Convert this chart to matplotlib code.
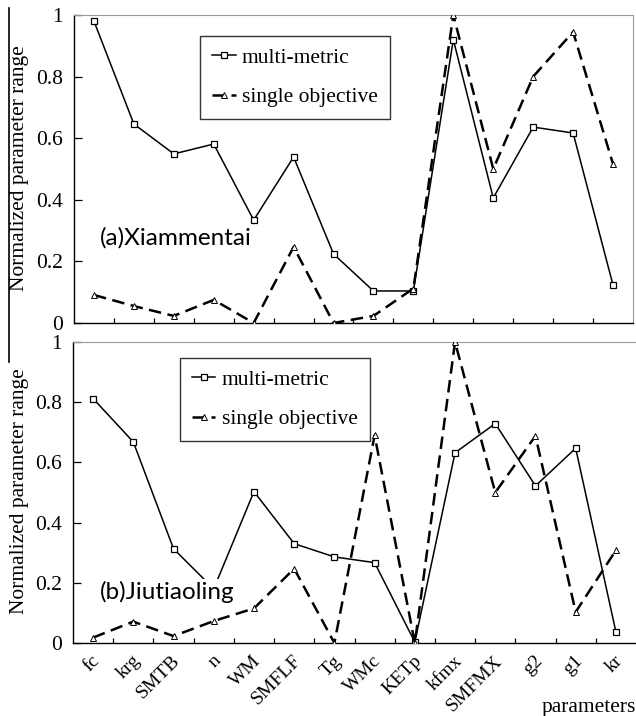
import matplotlib
matplotlib.use("Agg")
import matplotlib.pyplot as plt
from matplotlib.lines import Line2D

params = ['fc', 'krg', 'SMTB', 'n', 'WM', 'SMFLF', 'Tg', 'WMc', 'KETp',
          'kfmx', 'SMFMX', 'g2', 'g1', 'kr']

# (a) Xiammentai
multi_a = [0.98, 0.646, 0.549, 0.581, 0.334, 0.539, 0.224, 0.104, 0.104,
           0.92, 0.406, 0.636, 0.617, 0.123]
single_a = [0.091, 0.055, 0.023, 0.075, 0.0, 0.247, 0.0, 0.023, 0.112,
            1.0, 0.5, 0.80, 0.945, 0.516]

# (b) Jiutiaoling
multi_b = [0.812, 0.668, 0.313, 0.18, 0.503, 0.33, 0.286, 0.267, 0.003,
           0.632, 0.729, 0.522, 0.647, 0.037]
single_b = [0.018, 0.071, 0.023, 0.073, 0.115, 0.247, 0.0, 0.69, 0.0,
            1.0, 0.5, 0.688, 0.103, 0.308]

yticks = [0, 0.2, 0.4, 0.6, 0.8, 1.0]
yticklabels = ['0', '0.2', '0.4', '0.6', '0.8', '1']

serif = 'Liberation Serif'
W, H = 636, 716

fig = plt.figure(figsize=[W / 100, H / 100], dpi=100)
ax1 = fig.add_axes([74 / W, 1 - 323 / H, 559 / W, 308 / H])
ax2 = fig.add_axes([73 / W, 1 - 643 / H, 563 / W, 301 / H])

xs = [i + 0.5 for i in range(len(params))]


def style(ax, multi, single, label, lx, ly, leg_xy, show_right):
    ax.plot(xs, multi, color='black', lw=1.1, marker='s', ms=4.5,
            mfc='white', mec='black', mew=0.9, label='multi-metric', zorder=3)
    ax.plot(xs, single, color='black', lw=1.8, ls=(0, (5, 2.6)), marker='^',
            ms=4.5, mfc='white', mec='black', mew=0.7,
            label='single objective', zorder=3)
    ax.set_xlim(0, 14)
    ax.set_ylim(0, 1)
    ax.set_yticks(yticks)
    ax.set_yticklabels(yticklabels, fontfamily=serif, fontsize=15.5)
    ax.set_xticks(range(1, 14))
    ax.set_xticklabels([])
    ax.tick_params(axis='y', direction='in', length=5.5, width=0.9, pad=8)
    ax.tick_params(axis='x', direction='in', length=3.8, width=0.9)
    ax.spines['left'].set_linewidth(1.0)
    ax.spines['bottom'].set_linewidth(1.0)
    ax.spines['top'].set_color('#9a9a9a')
    ax.spines['right'].set_color('#9a9a9a')
    ax.spines['right'].set_visible(show_right)
    ax.text(lx, ly, label, fontfamily='Lato', fontsize=17.5, ha='left',
            va='center', zorder=5,
            bbox=dict(facecolor='white', edgecolor='none', pad=1.5))
    leg = ax.legend(loc='upper left', bbox_to_anchor=leg_xy, borderaxespad=0,
                    prop={'family': serif, 'size': 15.5}, numpoints=1,
                    handlelength=1.1, handletextpad=0.3, labelspacing=0.9,
                    borderpad=0.55, fancybox=False, framealpha=1)
    leg.get_frame().set_edgecolor('#333333')
    leg.get_frame().set_linewidth(1.0)


style(ax1, multi_a, single_a, '(a)Xiammentai', 0.65, 0.276,
      (0.2254, 0.9318), True)
style(ax2, multi_b, single_b, '(b)Jiutiaoling', 0.67, 0.17,
      (0.190, 0.947), False)

for x, p in zip(xs, params):
    ax2.annotate(p, xy=(x, 0), xycoords=('data', 'axes fraction'),
                 xytext=(3, -11), textcoords='offset points',
                 rotation=45, ha='right', va='center', rotation_mode='anchor',
                 fontfamily=serif, fontsize=14)

fig.text(20 / W, 1 - 168 / H, 'Normalized parameter range', rotation=90,
         ha='center', va='center', fontfamily=serif, fontsize=15.5)
fig.text(20 / W, 1 - 491 / H, 'Normalized parameter range', rotation=90,
         ha='center', va='center', fontfamily=serif, fontsize=15.5)
fig.text(636 / W, 1 - 712 / H, 'parameters', ha='right', va='baseline',
         fontfamily=serif, fontsize=15.5)

# stray frame edge at the far left of the original figure
fig.add_artist(Line2D([9 / W, 9 / W], [1 - 8 / H, 1 - 362 / H],
                      color='black', lw=1.2))

fig.savefig('out.png', dpi=100)
